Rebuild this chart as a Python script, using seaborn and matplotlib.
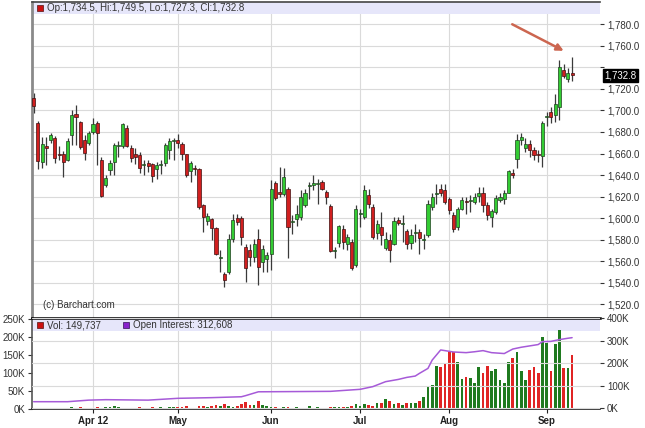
import numpy as np
import pandas as pd
import seaborn as sns
import matplotlib
matplotlib.use("Agg")
import matplotlib.pyplot as plt
from matplotlib.patches import Rectangle

# ------------------------------------------------------------
# Daily gold futures bars (mid-March -> Sep 12)
# ------------------------------------------------------------
opens = [1712, 1688, 1652, 1667, 1672.5, 1674, 1660, 1660, 1654, 1677,
         1697, 1689.5, 1672.5, 1670, 1680, 1688, 1654, 1630.6, 1645, 1652,
         1667, 1667, 1684, 1665, 1660, 1658.5, 1649, 1651.4, 1650, 1645.5,
         1649, 1651, 1663, 1671.5, 1672.4, 1668.4, 1659.4, 1644, 1646, 1645.5,
         1612, 1597.4, 1599, 1590.6, 1563, 1548, 1550, 1580.4, 1600, 1600.2,
         1573.3, 1570, 1564, 1581, 1559.3, 1562, 1566.5, 1632.5, 1624.4, 1622,
         1627.5, 1596.5, 1599, 1601, 1612, 1630, 1630.6, 1632, 1633.6, 1624.4,
         1611, 1569.6, 1577, 1590.3, 1576.4, 1578, 1556.3, 1603.7, 1601.2, 1621.4,
         1610.5, 1586.3, 1591.9, 1572.4, 1580.1, 1576.4, 1598.1, 1594.4, 1587.9, 1577,
         1586, 1587.2, 1580, 1584.1, 1610, 1622, 1627.5, 1626, 1617.6, 1602.7,
         1592, 1608.9, 1615.5, 1615.5, 1615, 1620.7, 1623.8, 1612, 1601.2, 1605.8,
         1616.7, 1618.2, 1623.8, 1641.5, 1654.8, 1673, 1665.3, 1668.4, 1663, 1658.7,
         1657.9, 1694, 1698.2, 1695.7, 1703.5, 1737.5, 1729.2, 1734.5]
highs = [1716, 1690, 1675, 1675, 1679, 1676, 1667, 1662, 1674, 1700,
         1705, 1690, 1677, 1681, 1693, 1690, 1657, 1640, 1654, 1670,
         1672, 1688, 1686.5, 1668, 1665, 1661.6, 1653.9, 1653.9, 1651, 1652.3,
         1654, 1670, 1674, 1674, 1678.6, 1671, 1660, 1653, 1649, 1646.7,
         1613.5, 1605, 1600.2, 1592, 1570, 1550, 1585.6, 1604.3, 1603.4, 1602,
         1576.4, 1576.4, 1581, 1590, 1574.8, 1569, 1635, 1634.5, 1647.6, 1647,
         1629, 1602.7, 1612, 1626, 1627.5, 1634, 1640, 1636, 1635.3, 1626,
         1613.6, 1573.3, 1593.4, 1593.4, 1585.7, 1581, 1612, 1608.9, 1630.6, 1627.5,
         1613.6, 1598, 1605.8, 1587.2, 1585.7, 1601.2, 1601.2, 1602.7, 1590.3, 1590.3,
         1595, 1590.3, 1585.7, 1616.7, 1622.9, 1632, 1632, 1632, 1620, 1605.8,
         1610.4, 1619.8, 1619.8, 1621.3, 1622.9, 1629, 1629, 1615, 1608.9, 1621.3,
         1622.9, 1625.9, 1644.6, 1646, 1677.7, 1679.5, 1674, 1672.4, 1666, 1663,
         1690, 1699, 1703, 1715, 1746.9, 1742.8, 1739, 1749.5]
lows = [1698, 1646, 1647, 1649, 1670, 1651, 1654, 1638, 1653, 1668,
        1668, 1664, 1654, 1668, 1678, 1649, 1619.5, 1629, 1640, 1640,
        1657, 1665, 1666, 1652, 1650, 1641.5, 1640, 1643, 1633.7, 1636.8,
        1641, 1648, 1655, 1654, 1664.7, 1653.9, 1638, 1633.7, 1640, 1608.9,
        1587, 1593.4, 1579.5, 1565.5, 1550, 1536, 1548.5, 1578, 1593.4, 1574.8,
        1540.7, 1556, 1559.3, 1537.6, 1550, 1550, 1551.5, 1616.7, 1619.7, 1621,
        1562.7, 1585.6, 1593, 1598, 1610.5, 1618, 1626, 1613.6, 1626, 1613.6,
        1568.7, 1563.4, 1573.3, 1571.7, 1570.8, 1551.6, 1554.7, 1591.9, 1599.6, 1609,
        1581, 1581, 1574.8, 1570.2, 1559.4, 1574.8, 1593.4, 1578, 1571.7, 1571.7,
        1578, 1567, 1571.7, 1582.6, 1607.4, 1613.6, 1621, 1613, 1604.2, 1587.2,
        1588.7, 1607.4, 1604.2, 1605.8, 1613.6, 1615, 1605.8, 1598, 1591.9, 1604.2,
        1615, 1613.6, 1622.9, 1637, 1647, 1668, 1661.6, 1657, 1654, 1652,
        1647.6, 1686, 1688, 1689, 1691, 1729.8, 1726.7, 1727.3]
closes = [1704, 1653, 1669, 1665, 1677, 1656, 1659, 1652, 1672, 1695.7,
          1694, 1666, 1660.5, 1679, 1687, 1679, 1620.5, 1637, 1651, 1668,
          1667.5, 1687, 1667, 1656, 1657, 1646.4, 1649.5, 1648.3, 1639.3, 1649.2,
          1649.8, 1668, 1671.5, 1672, 1669.4, 1660, 1640.5, 1651.5, 1645.5, 1610.4,
          1601.2, 1601.8, 1590.6, 1566.5, 1563.7, 1542.3, 1581, 1598, 1596.5, 1582.6,
          1554, 1564, 1575.7, 1554.7, 1571, 1566, 1626.9, 1618.5, 1622, 1638.3,
          1591.8, 1597, 1604, 1620, 1623.5, 1630.6, 1632.8, 1632.5, 1627.5, 1619.7,
          1569.6, 1570.2, 1592.5, 1578, 1582.6, 1554, 1608.9, 1604.3, 1626.6, 1613.6,
          1582.6, 1594.4, 1584.1, 1581, 1570.2, 1597.5, 1595.6, 1594.9, 1575.8, 1584.1,
          1586.3, 1582, 1580.4, 1613.6, 1619.8, 1623, 1623.8, 1615, 1607.4, 1590.3,
          1608.9, 1616.7, 1615, 1616, 1619.8, 1623.8, 1612, 1602.7, 1606.4, 1618.8,
          1619.8, 1622.9, 1643.6, 1640.5, 1672.4, 1675.6, 1669.3, 1663.2, 1659, 1658.3,
          1688, 1694.8, 1693.8, 1705.6, 1740.6, 1732.3, 1734.4, 1732.8]

# volume per bar, in thousands of contracts
volume_k = [3, 4, 3, 4, 3, 4, 3, 4, 4, 5,
            4, 6, 4, 3, 4, 5, 4, 5, 5, 8,
            6, 4, 3, 4, 3, 6, 4, 3, 5, 4,
            5, 4, 6, 5, 5, 6, 7, 4, 3, 8,
            7, 5, 9, 11, 8, 14, 8, 6, 9, 15,
            20, 10, 12, 23, 11, 8, 6, 5, 4, 5,
            6, 4, 5, 3, 4, 8, 4, 5, 3, 4,
            4.6, 4.6, 6.5, 6.5, 4.6, 8.3, 13.9, 8.3, 13.9, 11,
            8.3, 17.6, 17.6, 26.9, 23, 13.9, 15.7, 11, 15.7, 17.6,
            17.6, 23, 34, 62, 66.7, 119, 115.7, 128.7, 159, 159,
            129.6, 82.4, 89.8, 87, 73, 115.7, 101, 119, 106, 110,
            80.6, 73, 129.6, 140.7, 159, 106, 80.6, 108, 115.7, 99,
            199, 182.5, 106, 180.6, 219, 113, 113, 149.7]

# open interest (thousands) read at these bar numbers
oi_bar = [0, 8, 13, 17, 27, 34, 42, 49, 50, 53, 70, 77, 80, 83, 86, 88, 90, 91,
          93, 94, 96, 97, 99, 102, 104, 106, 108, 111, 113, 115, 117, 119, 120,
          122, 124, 126, 127]
oi_k = [28, 28, 35, 37, 35, 43, 46, 50, 55, 72, 74, 83, 95, 117, 127, 136, 142, 154,
        176, 213, 258, 255, 249, 246, 250, 255, 246, 242, 262, 270, 276, 282, 295,
        296, 304, 310, 312.6]

month_bars = [14, 34, 56, 77, 98, 121]
month_labels = ["Apr 12", "May", "Jun", "Jul", "Aug", "Sep"]
price_ticks = list(range(1520, 1781, 20))
vol_ticks = [0, 50, 100, 150, 200, 250]
oi_ticks = [0, 100, 200, 300, 400]

header_text = "Op:1,734.5, Hi:1,749.5, Lo:1,727.3, Cl:1,732.8"
vol_text = "Vol: 149,737"
oi_text = "Open Interest: 312,608"
last_price = 1732.8
arrow_from = (112.3, 1781.2)
arrow_to = (125.6, 1754.2)

UP = "#33cc33"
DOWN = "#d11f1f"
VOL_UP = "#1f7a1f"
VOL_DOWN = "#e02424"
OI_COL = "#a65ad8"
GRID = "#dadada"
BAND = "#e6e6fa"

sns.set_theme(style="white")
plt.rcParams["font.family"] = ["Liberation Sans", "DejaVu Sans"]

W, H = 645, 428
fig = plt.figure(figsize=(W / 100, H / 100), dpi=100)
ax = fig.add_axes([32 / W, 110 / H, 568 / W, 316 / H])
ax_vol = fig.add_axes([32 / W, 19 / H, 568 / W, 91 / H])
ax_oi = ax_vol.twinx()

# ------------------------------------------------------------
# Price panel: candlesticks
# ------------------------------------------------------------
o = np.array(opens)
c = np.array(closes)
bars = np.arange(len(o))
up = c >= o
body_low = np.minimum(o, c)
body_h = np.maximum(np.abs(c - o), 0.9)

ax.vlines(bars, lows, highs, color="#3a3a3a", lw=0.9, zorder=2)
ax.bar(bars[up], body_h[up], bottom=body_low[up], width=0.74,
       color=UP, edgecolor="#1f3f1f", linewidth=0.5, zorder=3)
ax.bar(bars[~up], body_h[~up], bottom=body_low[~up], width=0.74,
       color=DOWN, edgecolor="#3f1010", linewidth=0.5, zorder=3)

ax.set_xlim(-0.39, 133.58)
ax.set_ylim(1507.3, 1800.7)
ax.set_xticks(month_bars)
ax.set_yticks(price_ticks)
ax.set_yticklabels(["" if v == 1740 else f"{v:,.1f}" for v in price_ticks])
ax.yaxis.tick_right()
ax.tick_params(axis="y", right=True, left=False, length=3, width=0.8,
               direction="out", labelsize=7, colors="#333333", pad=2)
ax.tick_params(axis="x", bottom=False, labelbottom=False)
ax.grid(True, color=GRID, lw=0.8)
ax.set_axisbelow(True)

ax.add_patch(Rectangle((0, 1 - 12 / 316), 1, 12 / 316, transform=ax.transAxes,
                       facecolor=BAND, edgecolor="none", zorder=1))
ax.text(1 + 4 / 568, last_price, f"{last_price:,.1f}",
        transform=ax.get_yaxis_transform(), ha="left", va="center",
        fontsize=7, color="white",
        bbox=dict(boxstyle="square,pad=0.15", fc="black", ec="black"))
ax.text(11 / 568, 13 / 316, "(c) Barchart.com", transform=ax.transAxes,
        fontsize=7, color="#333333", va="center")
ax.annotate("", xy=arrow_to, xytext=arrow_from,
            arrowprops=dict(arrowstyle="-|>", color="#cc6650", lw=1.8,
                            mutation_scale=10))

for side in ["right", "bottom"]:
    ax.spines[side].set_visible(False)
ax.spines["left"].set_color("#8a8a8a")
ax.spines["left"].set_linewidth(2)
ax.spines["top"].set_color("#444444")
ax.spines["top"].set_linewidth(1.2)

# ------------------------------------------------------------
# Volume / open interest panel
# ------------------------------------------------------------
vol = np.array(volume_k)
ax_vol.bar(bars, vol, width=0.64, color=np.where(up, VOL_UP, VOL_DOWN),
           linewidth=0, zorder=2)
sns.lineplot(x=oi_bar, y=oi_k, ax=ax_oi, color=OI_COL, lw=1.1, zorder=3)

ax_vol.set_xlim(-0.39, 133.58)
ax_vol.set_ylim(0, 252.8)
ax_vol.set_yticks(vol_ticks)
ax_vol.set_yticklabels([f"{v}K" for v in vol_ticks])
ax_vol.set_xticks(month_bars)
ax_vol.set_xticklabels(month_labels, fontweight="bold")
ax_vol.tick_params(axis="y", left=True, length=3, width=0.8, direction="out",
                   labelsize=7, colors="#333333", pad=2)
ax_vol.tick_params(axis="x", bottom=True, length=3, width=0.8, direction="out",
                   labelsize=7, colors="#222222", pad=2)
ax_vol.grid(True, axis="x", color=GRID, lw=0.8)
ax_vol.set_axisbelow(True)
ax_vol.add_patch(Rectangle((0, 1 - 13 / 91), 1, 13 / 91, transform=ax_vol.transAxes,
                           facecolor=BAND, edgecolor="none", zorder=1))

ax_oi.set_xlim(-0.39, 133.58)
ax_oi.set_ylim(-4.44, 400)
ax_oi.set_yticks(oi_ticks)
ax_oi.set_yticklabels([f"{v}K" for v in oi_ticks])
ax_oi.tick_params(axis="y", right=True, length=3, width=0.8, direction="out",
                  labelsize=7, colors="#333333", pad=2)
ax_oi.set_ylabel("")
ax_oi.grid(True, axis="y", color=GRID, lw=0.8, zorder=0)

for a in (ax_vol, ax_oi):
    a.spines["right"].set_visible(False)
ax_oi.spines["left"].set_visible(False)
ax_oi.spines["bottom"].set_visible(False)
ax_oi.spines["top"].set_visible(False)
ax_vol.spines["top"].set_color("black")
ax_vol.spines["top"].set_linewidth(1.8)
ax_vol.spines["left"].set_color("#555555")
ax_vol.spines["left"].set_linewidth(1.2)
ax_vol.spines["bottom"].set_color("#222222")
ax_vol.spines["bottom"].set_linewidth(1.2)

# legend squares and header texts
fig.patches.append(Rectangle((36.7 / W, (H - 11) / H), 6 / W, 6 / H,
                             transform=fig.transFigure, facecolor="#cc1111",
                             edgecolor="#551111", lw=0.5))
fig.text(47 / W, (H - 8) / H, header_text, fontsize=7, color="#333333", va="center")
fig.patches.append(Rectangle((36.7 / W, (H - 328) / H), 6 / W, 6 / H,
                             transform=fig.transFigure, facecolor="#cc1111",
                             edgecolor="#551111", lw=0.5))
fig.text(47 / W, (H - 325) / H, vol_text, fontsize=7, color="#333333", va="center")
fig.patches.append(Rectangle((123 / W, (H - 328) / H), 6 / W, 6 / H,
                             transform=fig.transFigure, facecolor="#8822cc",
                             edgecolor="#331155", lw=0.5))
fig.text(133.3 / W, (H - 325) / H, oi_text, fontsize=7, color="#333333", va="center")

fig.savefig("out.png", dpi=100)
